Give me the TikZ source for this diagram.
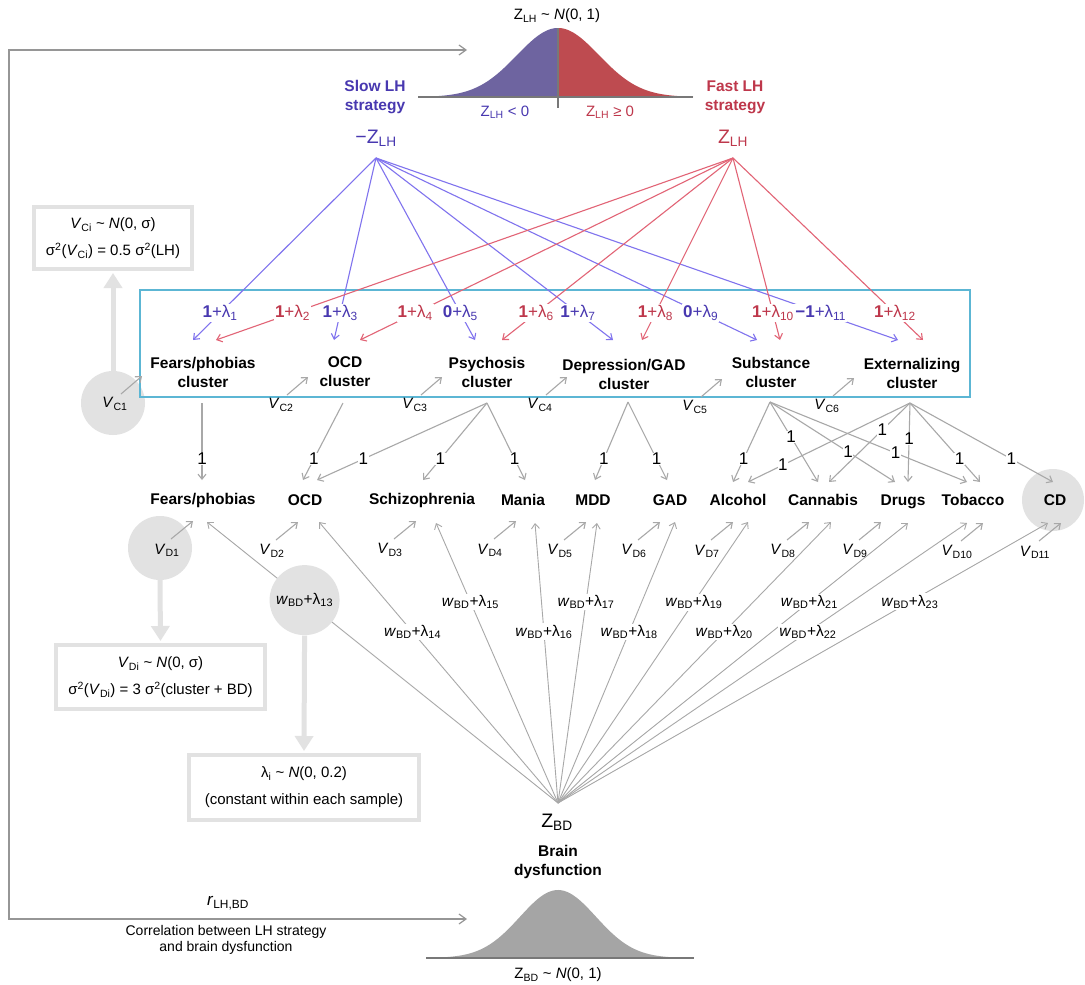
\documentclass[tikz,border=0pt]{standalone}
\usepackage{fontspec}
\setmainfont{Liberation Sans}
\usetikzlibrary{arrows.meta}

\definecolor{slowtxt}{RGB}{72,56,176}
\definecolor{slowline}{RGB}{128,115,238}
\definecolor{slowfill}{RGB}{110,100,160}
\definecolor{fasttxt}{RGB}{190,55,75}
\definecolor{fastline}{RGB}{226,100,118}
\definecolor{fastfill}{RGB}{190,75,80}
\definecolor{linkgray}{RGB}{168,168,168}
\definecolor{loopgray}{RGB}{150,150,150}
\definecolor{shade}{RGB}{226,226,226}
\definecolor{clusterbox}{RGB}{92,182,212}
\definecolor{axisgray}{RGB}{120,120,120}
\definecolor{bdfill}{RGB}{165,165,165}

\newcommand{\sbs}[1]{\textsubscript{#1}}
\newcommand{\fsz}[2]{\fontsize{#1}{#2}\selectfont}

\begin{document}
\begin{tikzpicture}[x=1pt,y=-1pt,>={Straight Barb[length=5pt,width=8pt]},
  txt/.style={font=\fsz{15}{18},inner sep=1pt},
  bt/.style={font=\fsz{15.5}{19}\bfseries,align=center,inner sep=1pt},
  lam/.style={font=\fsz{17}{19},inner sep=1.2pt,fill=white},
  one/.style={font=\fsz{17}{19},inner sep=0.6pt,fill=white},
  wlab/.style={font=\fsz{15.5}{18},inner sep=1.5pt,fill=white},
  slowc/.style={draw=slowline,line width=1.1pt,->},
  fastc/.style={draw=fastline,line width=1.1pt,->},
  link/.style={draw=linkgray,line width=1.1pt,->},
  fan/.style={draw=linkgray,line width=0.9pt,->},
  shadecirc/.style={circle,fill=shade,inner sep=0pt},
  infobox/.style={draw=shade,line width=4pt,align=center,font=\fsz{15}{27},inner sep=0pt},
  bigarrow/.style={draw=shade,line width=5pt,-{Triangle[length=15pt,width=18pt]},shorten >=2pt},
]
\fill[white] (0,0) rectangle (1085,985);
\useasboundingbox (0,0) rectangle (1085,985);

% ---------- LH distribution ----------
\fill[slowfill] (418,97) -- plot[domain=-140:0,samples=80,variable=\t] ({558+\t},{97-69*exp(-0.5*(\t/41)*(\t/41))}) -- (558,97) -- cycle;
\fill[fastfill] (558,97) -- plot[domain=0:135,samples=80,variable=\t] ({558+\t},{97-69*exp(-0.5*(\t/41)*(\t/41))}) -- (693,97) -- cycle;
\draw[axisgray,line width=1.3pt] (418,97) -- (693,97);
\draw[axisgray,line width=1.3pt] (558,28) -- (558,108);
\node[txt] (lhtitle) at (557,16) {Z\sbs{LH} \textasciitilde{} \textit{N}(0, 1)};
\node[txt,text=slowtxt] (lhneg) at (505,112) {Z\sbs{LH} < 0};
\node[txt,text=fasttxt] (lhpos) at (610,112) {Z\sbs{LH} ≥ 0};
\node[bt,text=slowtxt] (slow) at (375,97) {Slow LH\\strategy};
\node[bt,text=fasttxt] (fast) at (735,97) {Fast LH\\strategy};
\node[font=\fsz{19.5}{21},text=slowtxt] (negz) at (376,138) {−Z\sbs{LH}};
\node[font=\fsz{19.5}{21},text=fasttxt] (posz) at (733,138) {Z\sbs{LH}};
\coordinate (zs) at (376,158);
\coordinate (zf) at (733,158);

% ---------- BD distribution ----------
\fill[bdfill] plot[domain=-132:136,samples=90,variable=\t] ({558+\t},{958-68*exp(-0.5*(\t/38)*(\t/38))}) -- cycle;
\draw[axisgray,line width=1.3pt] (426,958) -- (694,958);
\node[txt] (bdtitle) at (558,975) {Z\sbs{BD} \textasciitilde{} \textit{N}(0, 1)};
\node[bt] (brain) at (558,862) {Brain\\dysfunction};
\node[font=\fsz{19.5}{21}] (zbdlab) at (557,822) {Z\sbs{BD}};
\coordinate (zbd) at (558,803);

% ---------- correlation loop ----------
\coordinate (lhin) at (467,50);
\coordinate (bdin) at (467,919);
\draw[draw=loopgray,line width=1.2pt,{Straight Barb[length=7pt,width=10pt]}-{Straight Barb[length=7pt,width=10pt]}]
  (lhin) -- (9,50) -- (9,919) -- (bdin);
\node[font=\fsz{17}{19}] (rlab) at (228,903) {\textit{r}\sbs{LH,BD}};
\node[font=\fsz{14}{16},align=center] (corr) at (226,940) {Correlation between LH strategy\\and brain dysfunction};

% ---------- shaded variance circles ----------
\node[shadecirc,minimum size=64pt] (vc1c) at (113,403) {};
\node[shadecirc,minimum size=64pt] (vd1c) at (160,548) {};
\node[shadecirc,minimum size=62pt] (cdc) at (1053,500) {};

% ---------- cluster box ----------
\node[draw=clusterbox,line width=2.5pt,minimum width=830,minimum height=107,inner sep=0pt] (cbox) at (555,343.5) {};

\node[bt] (cl1) at (203,372) {Fears/phobias\\cluster};
\node[bt] (cl2) at (345,372) {OCD\\cluster};
\node[bt] (cl3) at (487,372) {Psychosis\\cluster};
\node[bt] (cl4) at (624,374) {Depression/GAD\\cluster};
\node[bt] (cl5) at (771,372) {Substance\\cluster};
\node[bt] (cl6) at (912,373) {Externalizing\\cluster};

% ---------- LH loadings ----------
\coordinate (t1) at (193,340);  \coordinate (t2) at (216,340);
\coordinate (t3) at (334,340);  \coordinate (t4) at (360,340);
\coordinate (t5) at (475,340);  \coordinate (t6) at (502,340);
\coordinate (t7) at (613,340);  \coordinate (t8) at (642,340);
\coordinate (t9) at (757,340);  \coordinate (t10) at (780,340);
\coordinate (t11) at (898,340); \coordinate (t12) at (923,340);

\draw[slowc] (zs) -- node[lam,text=slowtxt,pos=.852] (l1) {\textbf{1}+λ\sbs{1}} (t1);
\draw[slowc] (zs) -- node[lam,text=slowtxt,pos=.852] (l3) {\textbf{1}+λ\sbs{3}} (t3);
\draw[slowc] (zs) -- node[lam,text=slowtxt,pos=.852] (l5) {\textbf{0}+λ\sbs{5}} (t5);
\draw[slowc] (zs) -- node[lam,text=slowtxt,pos=.852] (l7) {\textbf{1}+λ\sbs{7}} (t7);
\draw[slowc] (zs) -- node[lam,text=slowtxt,pos=.852] (l9) {\textbf{0}+λ\sbs{9}} (t9);
\draw[slowc] (zs) -- node[lam,text=slowtxt,pos=.852] (l11) {\textbf{−1}+λ\sbs{11}} (t11);
\draw[fastc] (zf) -- node[lam,text=fasttxt,pos=.852] (l2) {\textbf{1}+λ\sbs{2}} (t2);
\draw[fastc] (zf) -- node[lam,text=fasttxt,pos=.852] (l4) {\textbf{1}+λ\sbs{4}} (t4);
\draw[fastc] (zf) -- node[lam,text=fasttxt,pos=.852] (l6) {\textbf{1}+λ\sbs{6}} (t6);
\draw[fastc] (zf) -- node[lam,text=fasttxt,pos=.852] (l8) {\textbf{1}+λ\sbs{8}} (t8);
\draw[fastc] (zf) -- node[lam,text=fasttxt,pos=.852] (l10) {\textbf{1}+λ\sbs{10}} (t10);
\draw[fastc] (zf) -- node[lam,text=fasttxt,pos=.852] (l12) {\textbf{1}+λ\sbs{12}} (t12);

% ---------- cluster residuals ----------
\node[txt] (vc1) at (115,404) {\textit{V}\sbs{C1}};
\node[txt] (vc2) at (281,405) {\textit{V}\sbs{C2}};
\node[txt] (vc3) at (415,405) {\textit{V}\sbs{C3}};
\node[txt] (vc4) at (540,405) {\textit{V}\sbs{C4}};
\node[txt] (vc5) at (695,407) {\textit{V}\sbs{C5}};
\node[txt] (vc6) at (827,406) {\textit{V}\sbs{C6}};
\foreach \v in {vc1,vc2,vc3,vc4,vc5,vc6}
  \draw[link] ([shift={(6,-10)}]\v.center) -- ++(21,-18);

% ---------- disorders ----------
\node[bt] (d1) at (203,500) {Fears/phobias};
\node[bt] (d2) at (305,500) {OCD};
\node[bt] (d3) at (422,500) {Schizophrenia};
\node[bt] (d4) at (523,500) {Mania};
\node[bt] (d5) at (593,500) {MDD};
\node[bt] (d6) at (670,500) {GAD};
\node[bt] (d7) at (738,500) {Alcohol};
\node[bt] (d8) at (823,500) {Cannabis};
\node[bt] (d9) at (903,502) {Drugs};
\node[bt] (d10) at (973,500) {Tobacco};
\node[bt] (d11) at (1055,500) {CD};

% ---------- cluster to disorder loadings ----------
\coordinate (sF) at (202,403); \coordinate (sO) at (343,403);
\coordinate (sP) at (487,403); \coordinate (sD) at (628,402);
\coordinate (sS) at (770,402); \coordinate (sE) at (910,403);

\coordinate (a1) at (202,480);  \coordinate (a2) at (303,480);
\coordinate (a3) at (317,480);  \coordinate (a4) at (423,480);
\coordinate (a5) at (525,480);  \coordinate (a6) at (595,480);
\coordinate (a7) at (667,480);  \coordinate (a8) at (733,482);
\coordinate (a9) at (748,482);  \coordinate (a10) at (818,482);
\coordinate (a11) at (829,482); \coordinate (a12) at (895,482);
\coordinate (a13) at (908,482); \coordinate (a14) at (967,482);
\coordinate (a15) at (980,482); \coordinate (a16) at (1053,482);

\draw[link] (sF) -- node[one,pos=.727] (o1) {1} (a1);
\draw[link] (sO) -- node[one,pos=.727] (o2) {1} (a2);
\draw[link] (sP) -- node[one,pos=.727] (o3) {1} (a3);
\draw[link] (sP) -- node[one,pos=.727] (o4) {1} (a4);
\draw[link] (sP) -- node[one,pos=.727] (o5) {1} (a5);
\draw[link] (sD) -- node[one,pos=.731] (o6) {1} (a6);
\draw[link] (sD) -- node[one,pos=.731] (o7) {1} (a7);
\draw[link] (sS) -- node[one,pos=.712] (o8) {1} (a8);
\draw[link] (sE) -- node[one,pos=.785] (o9) {1} (a9);
\draw[link] (sS) -- node[one,pos=.437] (o10) {1} (a10);
\draw[link] (sE) -- node[one,pos=.34] (o11) {1} (a11);
\draw[link] (sS) -- node[one,pos=.625] (o12) {1} (a12);
\draw[link] (sE) -- node[one,pos=.456] (o13) {1} (a13);
\draw[link] (sS) -- node[one,pos=.6375] (o14) {1} (a14);
\draw[link] (sE) -- node[one,pos=.709] (o15) {1} (a15);
\draw[link] (sE) -- node[one,pos=.709] (o16) {1} (a16);

% ---------- disorder residuals ----------
\node[txt] (vd1) at (167,550) {\textit{V}\sbs{D1}};
\node[txt] (vd2) at (272,551) {\textit{V}\sbs{D2}};
\node[txt] (vd3) at (390,550) {\textit{V}\sbs{D3}};
\node[txt] (vd4) at (490,550) {\textit{V}\sbs{D4}};
\node[txt] (vd5) at (560,551) {\textit{V}\sbs{D5}};
\node[txt] (vd6) at (634,551) {\textit{V}\sbs{D6}};
\node[txt] (vd7) at (707,551) {\textit{V}\sbs{D7}};
\node[txt] (vd8) at (783,551) {\textit{V}\sbs{D8}};
\node[txt] (vd9) at (855,551) {\textit{V}\sbs{D9}};
\node[txt] (vd10) at (957,552) {\textit{V}\sbs{D10}};
\node[txt] (vd11) at (1035,552) {\textit{V}\sbs{D11}};
\foreach \v in {vd1,vd2,vd3,vd4,vd5,vd6,vd7,vd8,vd9,vd10,vd11}
  \draw[link] ([shift={(4,-11)}]\v.center) -- ++(22,-18);

% ---------- brain dysfunction loadings ----------
\coordinate (b13) at (207,522);  \coordinate (b14) at (319,522);
\coordinate (b15) at (436,523);  \coordinate (b16) at (535,523);
\coordinate (b17) at (597,523);  \coordinate (b18) at (675,522);
\coordinate (b19) at (748,522);  \coordinate (b20) at (831,522);
\coordinate (b21) at (908,523);  \coordinate (b22) at (967,523);
\coordinate (b23) at (1048,523);

\draw[fan] (zbd) -- node[shadecirc,minimum size=70pt,font=\fsz{15.5}{18},pos=.722] (w13) {\textit{w}\sbs{BD}+λ\sbs{13}} (b13);
\draw[fan] (zbd) -- node[wlab,pos=.6085] (w14) {\textit{w}\sbs{BD}+λ\sbs{14}} (b14);
\draw[fan] (zbd) -- node[wlab,pos=.718] (w15) {\textit{w}\sbs{BD}+λ\sbs{15}} (b15);
\draw[fan] (zbd) -- node[wlab,pos=.611] (w16) {\textit{w}\sbs{BD}+λ\sbs{16}} (b16);
\draw[fan] (zbd) -- node[wlab,pos=.718] (w17) {\textit{w}\sbs{BD}+λ\sbs{17}} (b17);
\draw[fan] (zbd) -- node[wlab,pos=.6085] (w18) {\textit{w}\sbs{BD}+λ\sbs{18}} (b18);
\draw[fan] (zbd) -- node[wlab,pos=.715] (w19) {\textit{w}\sbs{BD}+λ\sbs{19}} (b19);
\draw[fan] (zbd) -- node[wlab,pos=.6085] (w20) {\textit{w}\sbs{BD}+λ\sbs{20}} (b20);
\draw[fan] (zbd) -- node[wlab,pos=.718] (w21) {\textit{w}\sbs{BD}+λ\sbs{21}} (b21);
\draw[fan] (zbd) -- node[wlab,pos=.611] (w22) {\textit{w}\sbs{BD}+λ\sbs{22}} (b22);
\draw[fan] (zbd) -- node[wlab,pos=.718] (w23) {\textit{w}\sbs{BD}+λ\sbs{23}} (b23);

% ---------- distribution notes ----------
\node[infobox,minimum width=158,minimum height=62] (cibox) at (113,238)
  {\textit{V}\sbs{Ci} \textasciitilde{} \textit{N}(0, σ)\\σ\textsuperscript{2}(\textit{V}\sbs{Ci}) = 0.5 σ\textsuperscript{2}(LH)};
\node[infobox,minimum width=209,minimum height=64] (dibox) at (160.5,677)
  {\textit{V}\sbs{Di} \textasciitilde{} \textit{N}(0, σ)\\σ\textsuperscript{2}(\textit{V}\sbs{Di}) = 3 σ\textsuperscript{2}(cluster + BD)};
\node[infobox,minimum width=230,minimum height=65] (lambox) at (304,787.5)
  {λ\sbs{i} \textasciitilde{} \textit{N}(0, 0.2)\\(constant within each sample)};

\draw[bigarrow] (vc1c.north) -- (cibox.south);
\draw[bigarrow] (vd1c.south) -- (dibox.north);
\draw[bigarrow] (w13.south) -- (lambox.north);
\end{tikzpicture}
\end{document}
